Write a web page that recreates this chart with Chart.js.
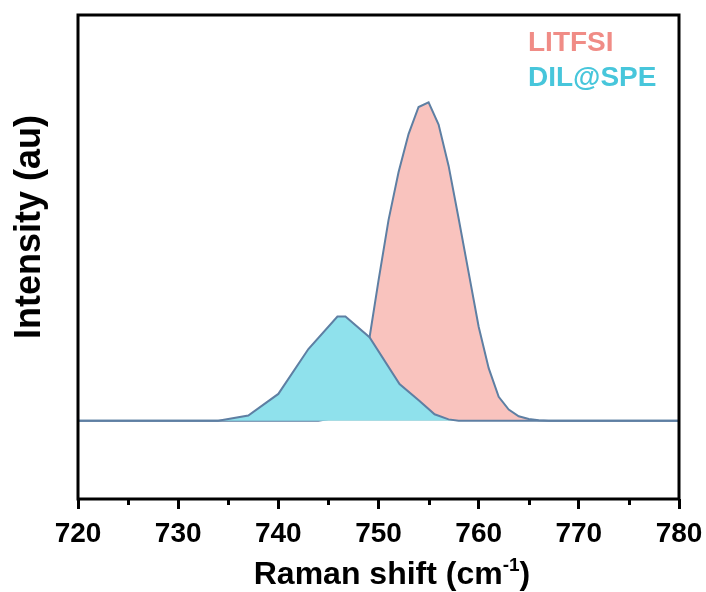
<!DOCTYPE html>
<html>
<head>
<meta charset="utf-8">
<script src="https://cdn.jsdelivr.net/npm/chart.js@4/dist/chart.umd.min.js"></script>
<style>
  html, body { margin: 0; padding: 0; background: #fff; }
  #wrap { width: 706px; height: 592px; }
</style>
</head>
<body>
<div id="wrap"><canvas id="chart"></canvas></div>
<script>
// Raman spectra, intensity normalised to the LiTFSI peak
const shiftLitfsi = [720, 744, 745, 746, 747, 748, 749, 750, 751, 752, 753, 754, 755, 756, 757, 758, 759, 760, 761, 762, 763, 764, 765, 766, 767, 780];
const intensityLitfsi = [0, 0, 0.005, 0.02, 0.06, 0.14, 0.24, 0.44, 0.63, 0.78, 0.9, 0.985, 1.0, 0.93, 0.8, 0.635, 0.465, 0.295, 0.165, 0.075, 0.035, 0.014, 0.005, 0.001, 0, 0];

const shiftDil = [720, 734, 735, 737, 740, 743, 745.9, 746.7, 749.1, 752.1, 754.1, 755.6, 757, 758, 780];
const intensityDil = [0, 0, 0.005, 0.016, 0.084, 0.225, 0.327, 0.327, 0.262, 0.115, 0.062, 0.02, 0.004, 0, 0];

const seriesNames = ['LITFSI', 'DIL@SPE'];
const seriesText = ['#F08C86', '#47C6DB'];
const xTicks = [720, 730, 740, 750, 760, 770, 780];
const xMinorTicks = [725, 735, 745, 755, 765, 775];

const FONT = "'Liberation Sans', Arial, sans-serif";
const toPoints = (xs, ys) => xs.map((x, i) => ({ x: x, y: ys[i] }));

// frame, minor ticks, axis titles and the coloured labels
const decorations = {
    id: 'decorations',
    afterDatasetsDraw(chart) {
        const { ctx, chartArea: a, scales } = chart;
        ctx.save();
        ctx.strokeStyle = '#000';
        ctx.lineWidth = 3;
        ctx.strokeRect(a.left, a.top, a.right - a.left, a.bottom - a.top);

        for (const v of xMinorTicks) {
            const px = Math.round(scales.x.getPixelForValue(v)) + 0.5;
            ctx.beginPath();
            ctx.moveTo(px, a.bottom);
            ctx.lineTo(px, a.bottom + 6);
            ctx.stroke();
        }

        ctx.fillStyle = '#000';
        ctx.textBaseline = 'alphabetic';

        // y title
        ctx.save();
        ctx.translate(40, 227);
        ctx.rotate(-Math.PI / 2);
        ctx.textAlign = 'center';
        ctx.font = 'bold 36px ' + FONT;
        ctx.fillText('Intensity (au)', 0, 0);
        ctx.restore();

        // x title with superscript
        const main = 'Raman shift (cm';
        const sup = '-1';
        const tail = ')';
        ctx.font = 'bold 32px ' + FONT;
        const wMain = ctx.measureText(main).width;
        const wTail = ctx.measureText(tail).width;
        ctx.font = 'bold 19px ' + FONT;
        const wSup = ctx.measureText(sup).width;
        let x = 392 - (wMain + wSup + wTail) / 2;
        const y = 584;
        ctx.textAlign = 'left';
        ctx.font = 'bold 32px ' + FONT;
        ctx.fillText(main, x, y);
        x += wMain;
        ctx.font = 'bold 19px ' + FONT;
        ctx.fillText(sup, x, y - 13);
        x += wSup;
        ctx.font = 'bold 32px ' + FONT;
        ctx.fillText(tail, x, y);

        // series labels
        ctx.textBaseline = 'middle';
        ctx.font = 'bold 28px ' + FONT;
        seriesNames.forEach((name, i) => {
            ctx.fillStyle = seriesText[i];
            ctx.fillText(name, 528, 43 + i * 35);
        });
        ctx.restore();
    }
};

const chart = new Chart(document.querySelector('#chart'), {
    type: 'line',
    data: {
        datasets: [
            {
                label: seriesNames[0],
                data: toPoints(shiftLitfsi, intensityLitfsi),
                borderColor: '#5E7FA3',
                backgroundColor: '#F9C3BE',
                borderWidth: 2,
                fill: 'origin',
                pointRadius: 0,
                tension: 0,
                order: 2
            },
            {
                label: seriesNames[1],
                data: toPoints(shiftDil, intensityDil),
                borderColor: '#5E7FA3',
                backgroundColor: '#8FE1EC',
                borderWidth: 2,
                fill: 'origin',
                pointRadius: 0,
                tension: 0,
                order: 1
            }
        ]
    },
    options: {
        responsive: true,
        maintainAspectRatio: false,
        animation: false,
        layout: { padding: { top: 15, right: 27, left: 0, bottom: 0 } },
        plugins: {
            legend: { display: false },
            tooltip: { enabled: false }
        },
        scales: {
            x: {
                type: 'linear',
                min: 720,
                max: 780,
                afterBuildTicks: (scale) => {
                    scale.ticks = xTicks.map(v => ({ value: v }));
                },
                afterFit: (scale) => {
                    scale.height = 93;
                    scale.paddingLeft = 0;
                    scale.paddingRight = 0;
                },
                ticks: {
                    color: '#000',
                    font: { family: FONT, size: 28, weight: 'bold' },
                    padding: 8,
                    maxRotation: 0
                },
                grid: {
                    drawOnChartArea: false,
                    drawTicks: true,
                    tickLength: 10,
                    lineWidth: 3,
                    color: '#000'
                },
                border: { display: false }
            },
            y: {
                min: -0.246,
                max: 1.274,
                afterFit: (scale) => { scale.width = 78; },
                ticks: { display: false },
                grid: { display: false },
                border: { display: false }
            }
        }
    },
    plugins: [decorations]
});
</script>
</body>
</html>
